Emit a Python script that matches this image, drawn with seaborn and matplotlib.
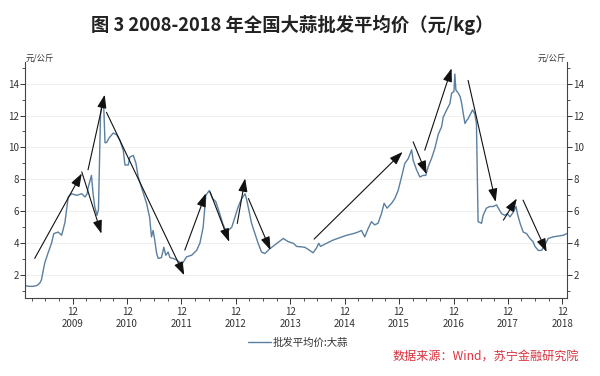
import pandas as pd
import matplotlib.pyplot as plt
import matplotlib.dates as mdates
from matplotlib.ticker import MultipleLocator, FuncFormatter
import seaborn as sns

# ---------------------------------------------------------------
# Data: garlic wholesale average price (yuan/kg)
# ---------------------------------------------------------------
dates = [
    "2009-01-15", "2009-02-10", "2009-03-10", "2009-04-05", "2009-04-24",
    "2009-05-05", "2009-05-27", "2009-06-19", "2009-07-12", "2009-07-27",
    "2009-08-25", "2009-09-18", "2009-10-10", "2009-11-01", "2009-11-24",
    "2009-12-28", "2010-01-31", "2010-02-22", "2010-03-08", "2010-03-14",
    "2010-04-06", "2010-04-17", "2010-04-28", "2010-05-13", "2010-05-23",
    "2010-06-06", "2010-06-14", "2010-06-28", "2010-07-06", "2010-07-16",
    "2010-08-03", "2010-08-30", "2010-09-22", "2010-10-14", "2010-11-06",
    "2010-11-17", "2010-12-09", "2010-12-20", "2011-01-12", "2011-01-30",
    "2011-02-14", "2011-03-08", "2011-04-11", "2011-05-02", "2011-05-14",
    "2011-05-25", "2011-06-05", "2011-06-17", "2011-06-28", "2011-07-20",
    "2011-08-05", "2011-08-18", "2011-09-03", "2011-09-15", "2011-10-07",
    "2011-10-30", "2011-11-21", "2011-12-09", "2012-01-05", "2012-02-08",
    "2012-03-12", "2012-04-03", "2012-04-25", "2012-05-13", "2012-06-05",
    "2012-06-28", "2012-07-19", "2012-08-11", "2012-09-03", "2012-09-18",
    "2012-10-10", "2012-11-03", "2012-11-25", "2012-12-17", "2013-01-09",
    "2013-02-01", "2013-02-12", "2013-03-16", "2013-04-29", "2013-05-22",
    "2013-06-13", "2013-07-16", "2013-08-20", "2013-10-15", "2013-11-17",
    "2013-12-21", "2014-01-13", "2014-03-08", "2014-04-11", "2014-05-03",
    "2014-05-26", "2014-06-10", "2014-06-22", "2014-08-02", "2014-09-15",
    "2014-10-30", "2014-12-14", "2015-01-28", "2015-03-01", "2015-03-24",
    "2015-04-15", "2015-05-07", "2015-05-30", "2015-06-21", "2015-07-13",
    "2015-08-05", "2015-08-23", "2015-09-12", "2015-10-12", "2015-11-03",
    "2015-11-25", "2015-12-18", "2016-01-09", "2016-02-01", "2016-02-24",
    "2016-03-05", "2016-03-28", "2016-04-19", "2016-05-11", "2016-05-29",
    "2016-06-14", "2016-07-06", "2016-07-29", "2016-08-20", "2016-09-12",
    "2016-09-23", "2016-10-16", "2016-11-07", "2016-11-18", "2016-12-04",
    "2016-12-10", "2016-12-17", "2017-01-02", "2017-01-14", "2017-01-25",
    "2017-02-05", "2017-02-16", "2017-02-28", "2017-03-09", "2017-03-25",
    "2017-04-08", "2017-04-23", "2017-05-04", "2017-05-15", "2017-06-07",
    "2017-06-18", "2017-07-10", "2017-08-02", "2017-08-24", "2017-09-16",
    "2017-10-04", "2017-10-20", "2017-11-11", "2017-11-27", "2017-12-15",
    "2018-01-07", "2018-01-25", "2018-02-03", "2018-02-21", "2018-03-14",
    "2018-04-06", "2018-04-28", "2018-05-19", "2018-06-01", "2018-06-23",
    "2018-07-15", "2018-08-07", "2018-08-29", "2018-10-02", "2018-11-05",
    "2018-12-08", "2018-12-31",
]
prices = [
    1.35, 1.30, 1.30, 1.35, 1.50,
    1.70, 2.75, 3.40, 4.00, 4.60,
    4.70, 4.50, 5.30, 6.90, 7.10,
    7.00, 7.10, 6.90, 7.10, 7.45,
    8.25, 7.10, 6.30, 5.75, 6.10,
    12.10, 12.65, 12.45, 10.30, 10.30,
    10.60, 10.90, 10.80, 10.45, 9.80,
    8.90, 8.90, 9.40, 9.50, 9.00,
    8.15, 7.50, 6.50, 5.60, 4.40,
    4.80, 4.20, 3.40, 3.05, 3.10,
    3.75, 3.25, 3.45, 3.10, 3.05,
    2.95, 2.80, 2.75, 3.15, 3.25,
    3.55, 4.00, 5.00, 7.00, 7.30,
    6.80, 6.60, 5.95, 5.25, 4.90,
    4.80, 5.00, 5.65, 6.30, 6.80,
    7.10, 6.70, 5.25, 4.00, 3.45,
    3.35, 3.65, 3.90, 4.30, 4.10,
    4.00, 3.80, 3.75, 3.55, 3.40,
    3.70, 4.00, 3.80, 4.00, 4.20,
    4.35, 4.50, 4.60, 4.70, 4.80,
    4.40, 4.90, 5.35, 5.15, 5.25,
    5.85, 6.50, 6.20, 6.50, 6.80,
    7.30, 8.15, 9.00, 9.30, 9.85,
    9.20, 8.60, 8.15, 8.25, 8.25,
    8.80, 9.30, 9.95, 10.80, 11.30,
    11.90, 12.35, 12.75, 13.40, 13.50,
    14.60, 13.60, 13.40, 13.20, 12.75,
    12.10, 11.50, 11.70, 11.80, 12.10,
    12.35, 12.10, 11.50, 5.35, 5.25,
    5.75, 6.20, 6.30, 6.30, 6.40,
    6.10, 5.85, 5.75, 5.85, 5.65,
    5.95, 6.30, 5.85, 5.25, 4.70,
    4.60, 4.30, 4.10, 3.80, 3.55,
    3.55, 3.90, 4.30, 4.40, 4.45,
    4.50, 4.60,
]

# trend arrows: (start date, start value, end date, end value)
arrow_start_dates = ["2009-03-21", "2010-01-31", "2010-03-14", "2010-07-16",
                     "2011-12-24", "2012-06-10", "2012-12-10", "2013-02-23",
                     "2014-05-10", "2016-03-05", "2016-05-22", "2017-03-09",
                     "2017-11-01", "2018-03-13"]
arrow_start_vals = [3.05, 8.47, 8.6, 12.2, 3.57, 7.22, 5.24, 6.8,
                    4.26, 10.35, 9.83, 14.2, 5.45, 6.7]
arrow_end_dates = ["2010-01-31", "2010-06-12", "2010-07-04", "2011-12-20",
                   "2012-05-13", "2012-10-17", "2013-02-01", "2013-07-21",
                   "2015-12-25", "2016-06-03", "2016-11-18", "2017-09-10",
                   "2018-01-30", "2018-08-18"]
arrow_end_vals = [8.37, 4.6, 13.3, 2.0, 7.12, 4.09, 8.06, 3.57,
                  9.72, 8.33, 14.95, 6.59, 6.8, 3.46]

series_name = "批发平均价:大蒜"
title = "图 3 2008-2018 年全国大蒜批发平均价（元/kg）"
unit = "元/公斤"
source = "数据来源：Wind，苏宁金融研究院"

df = pd.DataFrame({"date": pd.to_datetime(dates), "price": prices})

# ---------------------------------------------------------------
# Style
# ---------------------------------------------------------------
sns.set_theme(style="white")
plt.rcParams["font.family"] = ["Noto Sans CJK SC", "DejaVu Sans"]

fig = plt.figure(figsize=(6, 3.76), dpi=100)
ax = fig.add_axes([0.0417, 0.2066, 0.9033, 0.6284])

sns.lineplot(data=df, x="date", y="price", ax=ax, color="#5b7f9f",
             lw=1.0, label=series_name)

for sd, sv, ed, ev in zip(arrow_start_dates, arrow_start_vals,
                          arrow_end_dates, arrow_end_vals):
    ax.annotate("", xy=(pd.Timestamp(ed), ev), xytext=(pd.Timestamp(sd), sv),
                arrowprops=dict(arrowstyle="-|>,head_length=0.8,head_width=0.28",
                                color="#111111", lw=0.8,
                                mutation_scale=10, shrinkA=0, shrinkB=0))

ax.set_xlim(pd.Timestamp("2009-01-15"), pd.Timestamp("2019-01-02"))
ax.set_ylim(0.55, 15.35)

# spines
for s in ["left", "right", "bottom"]:
    ax.spines[s].set_visible(True)
    ax.spines[s].set_color("#444444")
    ax.spines[s].set_linewidth(0.8)
ax.spines["top"].set_visible(False)

# y axis on both sides
ax.yaxis.set_major_locator(MultipleLocator(2))
ax.yaxis.set_minor_locator(MultipleLocator(1))
ax.yaxis.grid(True, which="major", color="#efefef", lw=0.8)
ax.tick_params(axis="y", which="both", left=True, right=True,
               labelleft=True, labelright=True, direction="out",
               colors="#333333", labelsize=7, pad=1)
ax.tick_params(axis="y", which="major", length=3.5, width=0.7)
ax.tick_params(axis="y", which="minor", length=2, width=0.6)
ax.set_ylabel("")
ax.set_xlabel("")

# x axis: December ticks labelled "12 / year", quarterly minor ticks
ax.xaxis.set_major_locator(mdates.MonthLocator(bymonth=12))
ax.xaxis.set_minor_locator(mdates.MonthLocator(bymonth=(3, 6, 9)))
ax.xaxis.set_major_formatter(
    FuncFormatter(lambda v, p: f"12\n{mdates.num2date(v).year}"))
ax.tick_params(axis="x", which="both", bottom=True, direction="out",
               colors="#333333", labelsize=7, pad=2)
ax.tick_params(axis="x", which="major", length=4, width=0.7)
ax.tick_params(axis="x", which="minor", length=2, width=0.6)
for lab in ax.get_xticklabels():
    lab.set_linespacing(1.35)

# unit labels above both y axes
fig.text(0.042, 0.835, unit, fontsize=6, color="#333333", ha="left", va="bottom")
fig.text(0.943, 0.835, unit, fontsize=6, color="#333333", ha="right", va="bottom")

# title
fig.text(0.487, 0.934, title, fontsize=13.2, fontweight="bold",
         color="#222222", ha="center", va="center")

# legend below the axes
ax.legend(loc="center", bbox_to_anchor=(0.497, 0.088),
          bbox_transform=fig.transFigure, frameon=False, fontsize=7.5,
          handlelength=2.2, handletextpad=0.2, labelcolor="#333333")

# source note
fig.text(0.655, 0.05, source, fontsize=8.7, color="#d9343f", style="italic",
         ha="left", va="center")

fig.savefig("out.png", dpi=100)
